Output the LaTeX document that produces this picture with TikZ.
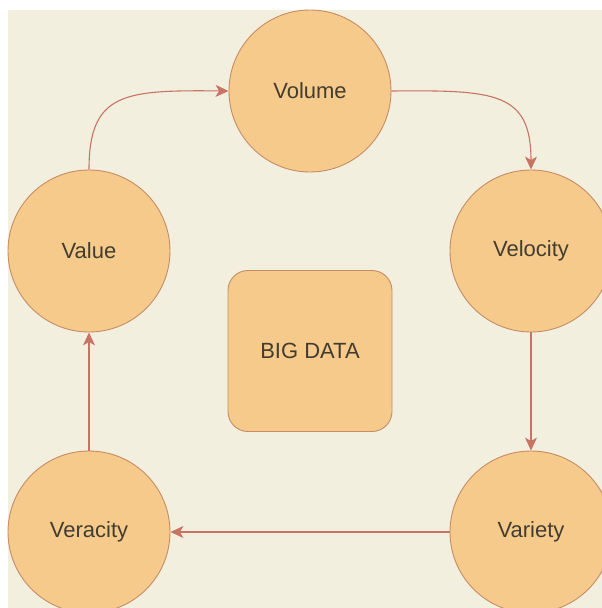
\documentclass[tikz,border=0pt]{standalone}
\usepackage{fontspec}
\setmainfont{Liberation Sans}
\usetikzlibrary{arrows.meta}
\definecolor{bgcream}{RGB}{243,239,223}
\definecolor{vfill}{RGB}{245,202,138}
\definecolor{vborder}{RGB}{198,140,100}
\definecolor{arrowred}{RGB}{200,116,100}
\definecolor{txtdark}{RGB}{68,60,48}
\tikzset{
  circ/.style={
    draw=vborder,
    fill=vfill,
    circle,
    line width=0.9pt,
    inner sep=0pt,
    minimum size=162pt,
    text=txtdark,
    font=\fontsize{22}{26}\selectfont,
  },
  rbox/.style={
    draw=vborder,
    fill=vfill,
    rectangle,
    rounded corners=20pt,
    line width=0.9pt,
    inner sep=0pt,
    minimum width=164pt,
    minimum height=161pt,
    text=txtdark,
    font=\fontsize{22}{26}\selectfont,
  },
  link/.style={
    draw=arrowred,
    line width=1.1pt,
    -{Stealth[length=13pt,width=12pt,inset=3.5pt]},
  },
}

\begin{document}
\begin{tikzpicture}[x=1pt,y=-1pt]
  \useasboundingbox (0,0) rectangle (602,608);
  \clip (0,0) rectangle (602,608);
  \fill[white] (0,0) rectangle (602,608);
  \fill[bgcream] (8,10) rectangle (602,608);

  \node[circ] (volume) at (310,91) {Volume};
  \node[circ] (value) at (89,251) {Value};
  \node[circ] (velocity) at (531,251) {Velocity};
  \node[circ] (variety) at (531,532) {Variety};
  \node[circ] (veracity) at (89,532) {Veracity};
  \node[rbox] (bigdata) at (310,351) {BIG DATA};

  \draw[link] (value.north) .. controls (89,92) and (125,90) .. (volume.west);
  \draw[link] (volume.east) .. controls (495,90) and (531,92) .. (velocity.north);
  \draw[link] (velocity.south) -- (variety.north);
  \draw[link] (variety.west) -- (veracity.east);
  \draw[link] (veracity.north) -- (value.south);
\end{tikzpicture}
\end{document}
